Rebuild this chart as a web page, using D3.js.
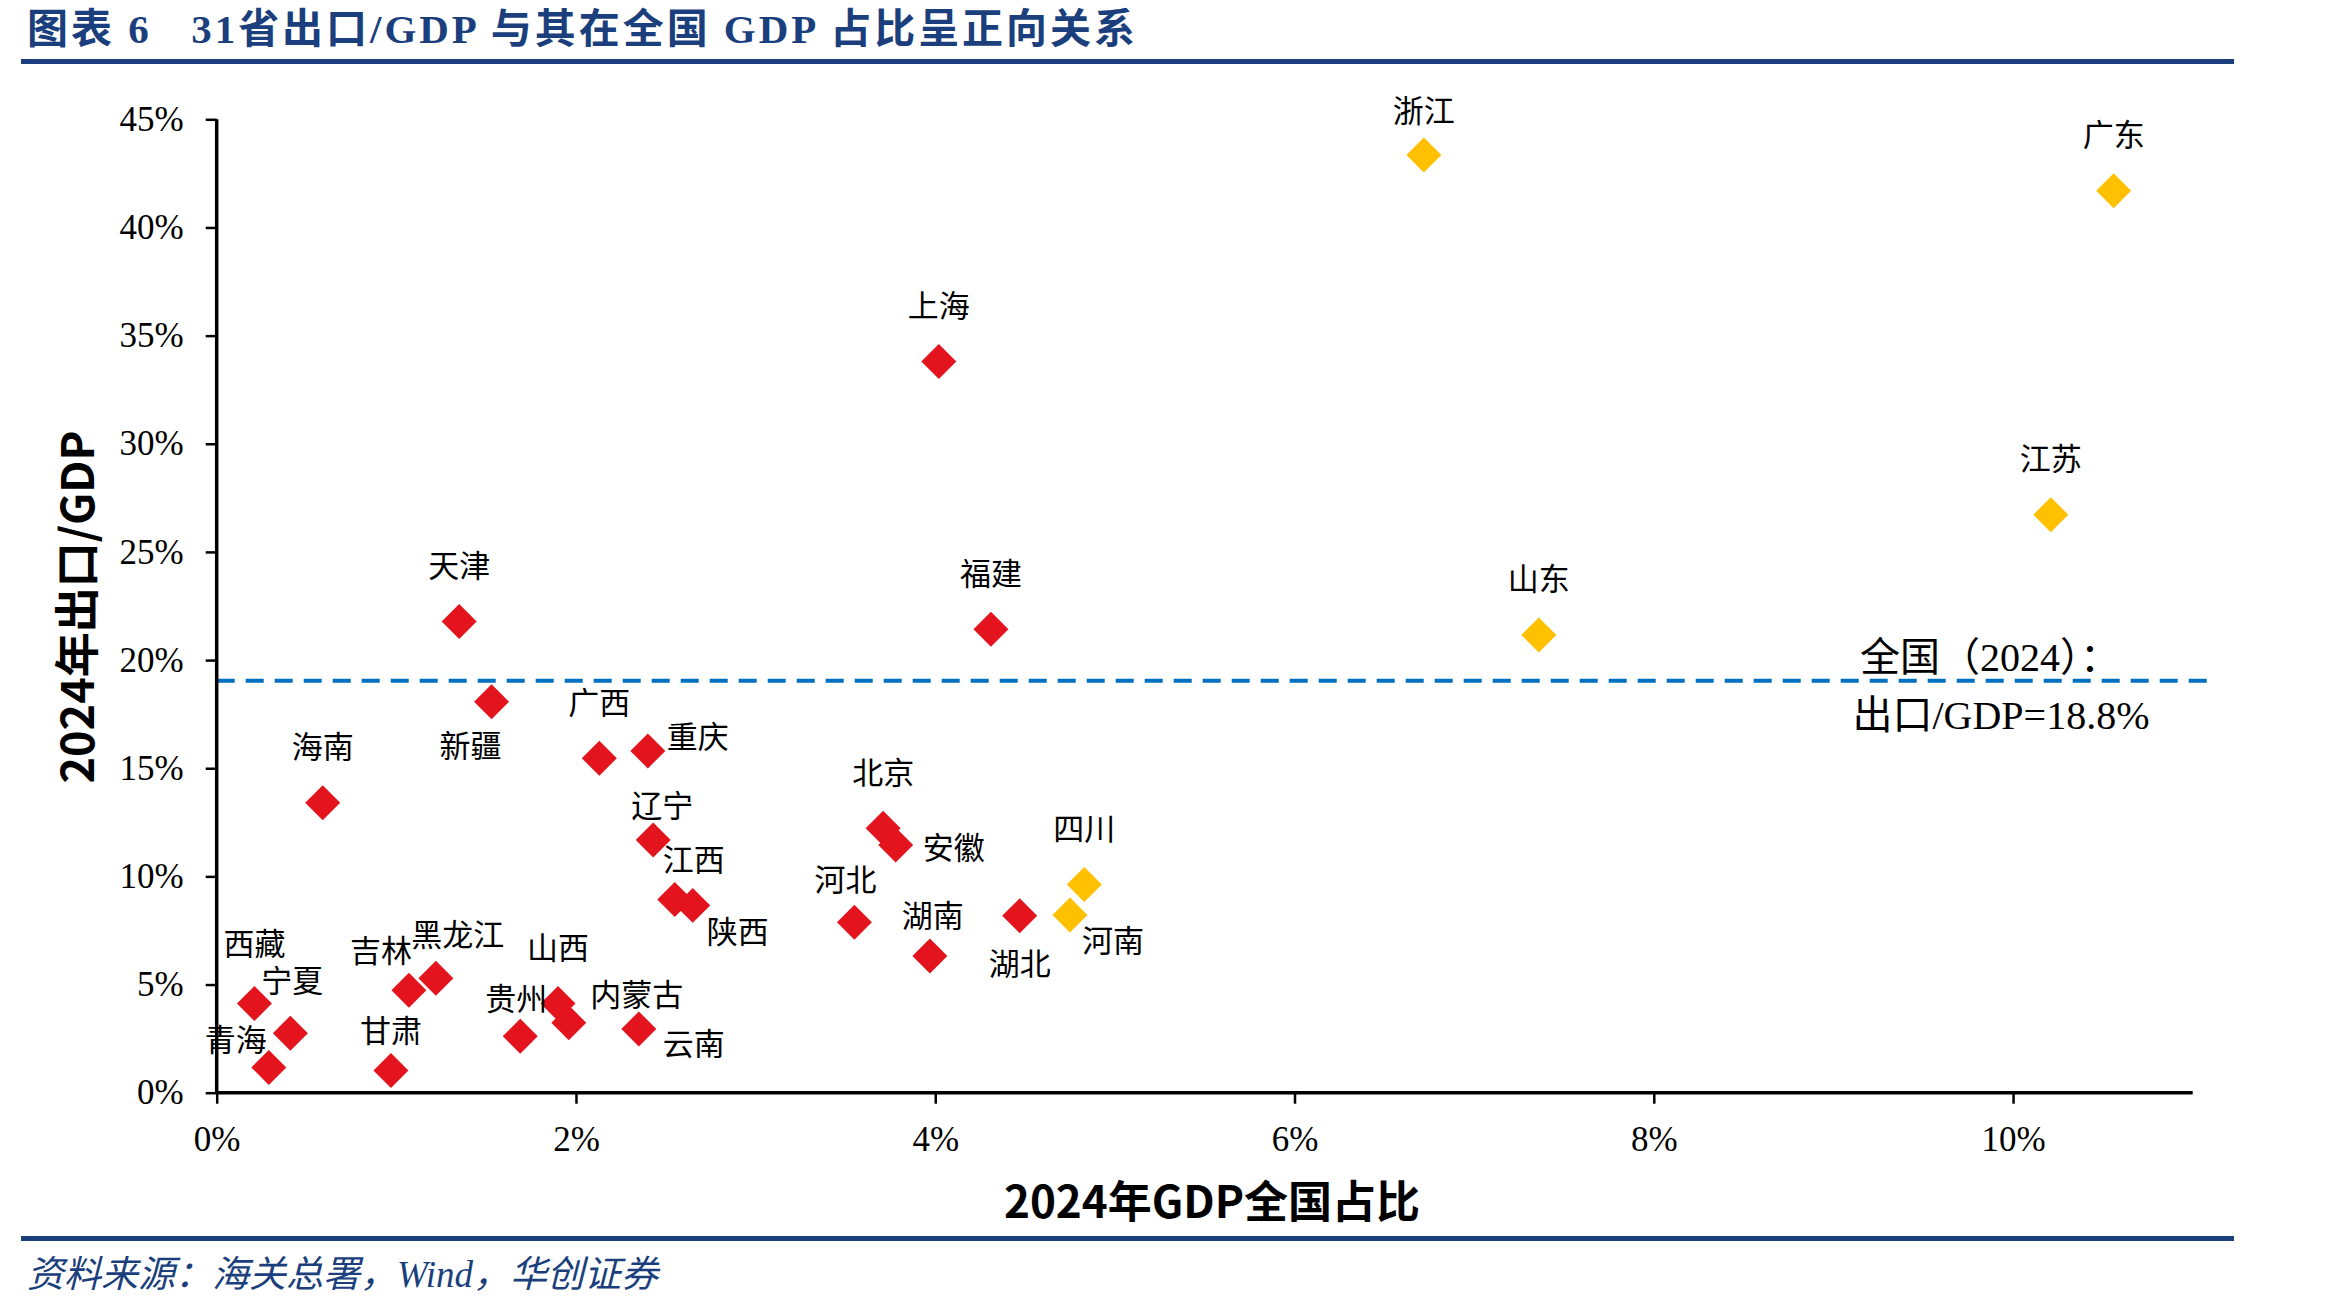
<!DOCTYPE html>
<html>
<head>
<meta charset="utf-8">
<script src="https://cdnjs.cloudflare.com/ajax/libs/d3/7.8.5/d3.min.js"></script>
<style>
    body { margin: 0; background: #fff; }
    svg text { fill: #000; }
</style>
</head>
<body>
<div id="chart"></div>
<script>
// provinces, GDP share of nation (%) and exports / GDP (%)
var provinces   = ["浙江", "广东", "上海", "江苏", "天津", "福建", "山东", "新疆", "广西", "重庆",
                   "海南", "北京", "安徽", "辽宁", "四川", "江西", "陕西", "河南", "湖北", "河北",
                   "湖南", "黑龙江", "吉林", "西藏", "山西", "内蒙古", "宁夏", "云南", "贵州", "甘肃", "青海"];
var gdpShare    = [6.72, 10.56, 4.02, 10.21, 1.35, 4.31, 7.36, 1.53, 2.13, 2.40,
                   0.59, 3.71, 3.78, 2.43, 4.83, 2.55, 2.65, 4.75, 4.47, 3.55,
                   3.97, 1.22, 1.07, 0.21, 1.90, 1.96, 0.41, 2.35, 1.69, 0.97, 0.29];
var exportRatio = [43.35, 41.70, 33.80, 26.72, 21.78, 21.43, 21.16, 18.07, 15.46, 15.80,
                   13.40, 12.23, 11.45, 11.68, 9.62, 8.93, 8.66, 8.22, 8.18, 7.88,
                   6.32, 5.29, 4.74, 4.12, 4.12, 3.23, 2.75, 2.95, 2.61, 1.03, 1.17];
var topSix = ["浙江", "广东", "江苏", "山东", "四川", "河南"];

var xTicks = [0, 2, 4, 6, 8, 10];
var yTicks = [0, 5, 10, 15, 20, 25, 30, 35, 40, 45];
var nationalLine = 19.05;   // where the dashed line sits in the picture
var nationalText = ["全国（2024）：", "出口/GDP=18.8%"];

// where each label sits relative to its diamond (px), default is straight above
var labelOffset = {
    "浙江": [0, -46], "新疆": [-21, 42], "重庆": [50, -16], "安徽": [58, 0],
    "辽宁": [9, -37], "江西": [19, -42], "陕西": [45, 24], "河南": [43, 24],
    "湖北": [0, 46], "河北": [-9, -45], "湖南": [3, -42], "黑龙江": [22, -46],
    "吉林": [-28, -42], "内蒙古": [68, -30], "云南": [55, 13], "贵州": [-4, -40],
    "甘肃": [0, -42], "青海": [-33, -30], "西藏": [0, -62], "宁夏": [2, -55]
};

var W = 2327, H = 1303;
var navy = "#1b3f7d",
    red = "#e3141d",
    gold = "#ffc000",
    serif = "'Liberation Serif', 'Times New Roman', 'Noto Sans CJK SC', serif",
    cjk = "'Noto Sans CJK SC', sans-serif",
    narrow = "'Liberation Sans Narrow', 'Arial Narrow', 'Noto Sans CJK SC', sans-serif";

var svg = d3.select("#chart")
    .append("svg")
    .attr("width", W)
    .attr("height", H)
    .style("background", "#fff");

// header and footer
svg.append("text")
    .attr("x", 27)
    .attr("y", 29)
    .attr("dominant-baseline", "central")
    .attr("font-family", serif)
    .attr("font-weight", "bold")
    .attr("font-size", 41)
    .attr("textLength", 1108)
    .attr("lengthAdjust", "spacing")
    .style("fill", navy)
    .style("white-space", "pre")
    .text("图表 6   31省出口/GDP 与其在全国 GDP 占比呈正向关系");

svg.append("rect").attr("x", 21).attr("y", 59).attr("width", 2213).attr("height", 5).attr("fill", navy);
svg.append("rect").attr("x", 21).attr("y", 1236).attr("width", 2213).attr("height", 5).attr("fill", navy);

svg.append("text")
    .attr("x", 27)
    .attr("y", 1274)
    .attr("dominant-baseline", "central")
    .attr("font-family", serif)
    .attr("font-style", "italic")
    .attr("font-size", 37)
    .style("fill", navy)
    .text("资料来源：海关总署，Wind，华创证券");

// scales
var x = d3.scaleLinear().domain([0, 11]).range([216.7, 2192.7]);
var y = d3.scaleLinear().domain([0, 45]).range([1092.7, 119.3]);

var g = svg.append("g");

// national average dashed line
g.append("line")
    .attr("x1", x(0))
    .attr("x2", x(11.13))
    .attr("y1", y(nationalLine))
    .attr("y2", y(nationalLine))
    .attr("stroke", "#0070c0")
    .attr("stroke-width", 4)
    .attr("stroke-dasharray", "18,11");

g.selectAll(".note")
    .data(nationalText)
    .enter()
    .append("text")
    .attr("class", "note")
    .attr("x", function (d, i) { return i === 0 ? 1990 : 2001; })
    .attr("y", function (d, i) { return y(nationalLine) + (i === 0 ? -23 : 35); })
    .attr("text-anchor", "middle")
    .attr("dominant-baseline", "central")
    .attr("font-family", serif)
    .attr("font-size", 40)
    .text(function (d) { return d; });

// axes
var xAxis = g.append("g")
    .attr("transform", "translate(0," + y(0) + ")")
    .call(d3.axisBottom(x).tickValues(xTicks).tickSize(11).tickPadding(28)
        .tickFormat(function (d) { return d + "%"; }));

var yAxis = g.append("g")
    .attr("transform", "translate(" + x(0) + ",0)")
    .call(d3.axisLeft(y).tickValues(yTicks).tickSize(11).tickPadding(22)
        .tickFormat(function (d) { return d + "%"; }));

[xAxis, yAxis].forEach(function (ax) {
    ax.select(".domain").attr("stroke", "#000").attr("stroke-width", 3.5);
    ax.selectAll(".tick line").attr("stroke", "#000").attr("stroke-width", 2.5);
    ax.selectAll(".tick text")
        .attr("font-family", serif)
        .attr("font-size", 35)
        .style("fill", "#000");
});
xAxis.selectAll(".tick text").attr("dy", "0.35em").attr("y", 46);
yAxis.selectAll(".domain").attr("d", "M0," + y(45) + "V" + y(0));
xAxis.selectAll(".domain").attr("d", "M" + x(0) + ",0H" + x(11));

// axis titles
svg.append("text")
    .attr("x", 1212)
    .attr("y", 1199)
    .attr("text-anchor", "middle")
    .attr("dominant-baseline", "central")
    .attr("font-family", narrow)
    .attr("font-weight", "bold")
    .attr("font-size", 44)
    .text("2024年GDP全国占比");

svg.append("text")
    .attr("transform", "translate(74,607) rotate(-90)")
    .attr("text-anchor", "middle")
    .attr("dominant-baseline", "central")
    .attr("font-family", narrow)
    .attr("font-weight", "bold")
    .attr("font-size", 45)
    .text("2024年出口/GDP");

// points
var rows = provinces.map(function (p, i) {
    return {name: p, gdp: gdpShare[i], exp: exportRatio[i]};
});

var diamond = d3.symbol().type(d3.symbolSquare).size(612);

g.selectAll(".pt")
    .data(rows)
    .enter()
    .append("path")
    .attr("class", "pt")
    .attr("d", diamond)
    .attr("transform", function (d) {
        return "translate(" + x(d.gdp) + "," + y(d.exp) + ") rotate(45)";
    })
    .attr("fill", function (d) { return topSix.indexOf(d.name) >= 0 ? gold : red; });

g.selectAll(".lbl")
    .data(rows)
    .enter()
    .append("text")
    .attr("class", "lbl")
    .attr("x", function (d) { return x(d.gdp) + (labelOffset[d.name] || [0, -58])[0]; })
    .attr("y", function (d) { return y(d.exp) + (labelOffset[d.name] || [0, -58])[1]; })
    .attr("text-anchor", "middle")
    .attr("dominant-baseline", "central")
    .attr("font-family", cjk)
    .attr("font-size", 31)
    .text(function (d) { return d.name; });
</script>
</body>
</html>
